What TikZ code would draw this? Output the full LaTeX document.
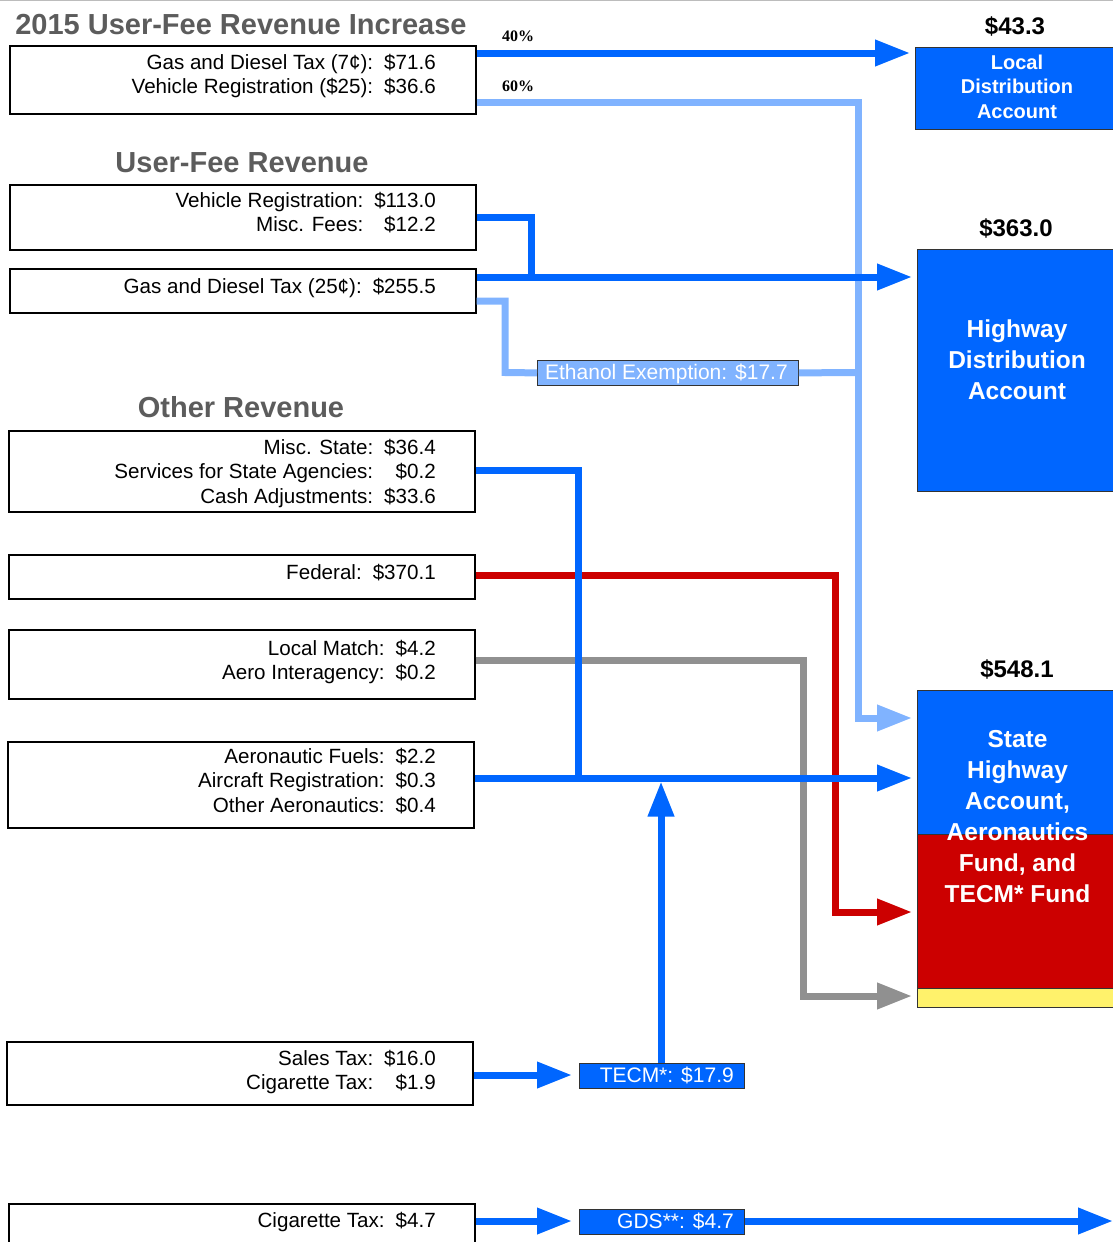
\documentclass[tikz,border=0pt]{standalone}
\usepackage{fontspec}
\setmainfont{Liberation Sans}
\newfontfamily\pctfont{Liberation Serif}
\usetikzlibrary{arrows.meta,calc}
\definecolor{fblue}{HTML}{0066FF}
\definecolor{lblue}{HTML}{80B3FF}
\definecolor{fred}{HTML}{CC0000}
\definecolor{fgray}{HTML}{909090}
\definecolor{fyellow}{HTML}{FFF26B}
\definecolor{ttl}{HTML}{5C5C5C}
\definecolor{edge}{HTML}{333333}
\newcommand{\tbl}[1]{\begin{tabular}[t]{@{}r@{\hspace{11pt}}r@{}}#1\end{tabular}}
\begin{document}
\begin{tikzpicture}[x=1pt,y=-1pt,
  srcbox/.style={draw=black, line width=1.6pt, fill=white, anchor=north west, inner sep=0pt},
  srctext/.style={anchor=base east, inner sep=0pt, font=\fontsize{20.6}{24.6}\selectfont},
  title/.style={anchor=base, inner sep=0pt, text=ttl, font=\fontsize{29}{30}\selectfont\bfseries},
  amount/.style={anchor=base, inner sep=0pt, font=\fontsize{24}{26}\selectfont\bfseries},
  pct/.style={anchor=base, inner sep=0pt, font=\pctfont\fontsize{16}{17}\selectfont\bfseries},
  dest/.style={draw=edge, line width=0.8pt, fill=fblue, anchor=north west, inner sep=0pt},
  desttext/.style={anchor=base, inner sep=0pt, text=white, align=center},
  tag/.style={draw=edge, line width=0.8pt, anchor=north west, inner sep=0pt, minimum height=25pt},
  tagtext/.style={anchor=base east, inner sep=0pt, text=white, font=\fontsize{21}{24}\selectfont},
  line/.style={line width=7pt},
  flow/.style={line width=7pt, -{Triangle[length=35pt,width=25pt]}, shorten >=5pt},
]
\useasboundingbox (0,0) rectangle (1113,1242);
\draw[fgray!60, line width=1pt] (0,0.5) -- (1113,0.5);

% titles
\node[title] (h1) at (241,34) {2015 User-Fee Revenue Increase};
\node[title] (h2) at (242,172) {User-Fee Revenue};
\node[title] (h3) at (241,417) {Other Revenue};

% source boxes
\node[srcbox, minimum width=466, minimum height=68] (b1) at (9,45) {};
\node[srcbox, minimum width=466, minimum height=65] (b2) at (9,184) {};
\node[srcbox, minimum width=466, minimum height=44] (b3) at (9,268) {};
\node[srcbox, minimum width=466, minimum height=81] (b4) at (8,430) {};
\node[srcbox, minimum width=466, minimum height=44] (b5) at (8,554) {};
\node[srcbox, minimum width=466, minimum height=69] (b6) at (8,629) {};
\node[srcbox, minimum width=466, minimum height=86] (b7) at (7,741) {};
\node[srcbox, minimum width=466, minimum height=63] (b8) at (6,1041) {};
\node[srcbox, minimum width=466, minimum height=50] (b9) at (8,1203) {};

\node[srctext] (t1) at (436,69) {\tbl{Gas and Diesel Tax (7¢): & \$71.6\\ Vehicle Registration (\$25): & \$36.6}};
\node[srctext] (t2) at (436,207) {\tbl{Vehicle Registration: & \$113.0\\ Misc. Fees: & \$12.2}};
\node[srctext] (t3) at (436,293) {\tbl{Gas and Diesel Tax (25¢): & \$255.5}};
\node[srctext] (t4) at (436,454) {\tbl{Misc. State: & \$36.4\\ Services for State Agencies: & \$0.2\\ Cash Adjustments: & \$33.6}};
\node[srctext] (t5) at (436,579) {\tbl{Federal: & \$370.1}};
\node[srctext] (t6) at (436,655) {\tbl{Local Match: & \$4.2\\ Aero Interagency: & \$0.2}};
\node[srctext] (t7) at (436,763) {\tbl{Aeronautic Fuels: & \$2.2\\ Aircraft Registration: & \$0.3\\ Other Aeronautics: & \$0.4}};
\node[srctext] (t8) at (436,1065) {\tbl{Sales Tax: & \$16.0\\ Cigarette Tax: & \$1.9}};
\node[srctext] (t9) at (436,1227) {\tbl{Cigarette Tax: & \$4.7}};

% percentages
\node[pct] (p40) at (518,41) {40\%};
\node[pct] (p60) at (518,91) {60\%};

% destination accounts
\node[amount] (a1) at (1015,34) {\$43.3};
\node[amount] (a2) at (1016,236) {\$363.0};
\node[amount] (a3) at (1017,677) {\$548.1};

\node[dest, minimum width=200, minimum height=82] (lda) at (915,47) {};
\node[desttext, font=\fontsize{20}{24.5}\selectfont\bfseries] (ldat) at (1017,118) {Local\\Distribution\\Account};
\node[dest, minimum width=198, minimum height=242] (hda) at (917,249) {};
\node[desttext, font=\fontsize{24.5}{31}\selectfont\bfseries] (hdat) at (1017,399) {Highway\\Distribution\\Account};

\node[dest, minimum width=198, minimum height=317] (sha) at (917,690) {};
\fill[fred] (917,834) rectangle (1115,988);
\fill[fyellow] (917,988) rectangle (1115,1007);
\draw[edge, line width=0.8pt] (917,834) -- (1115,834) (917,988) -- (1115,988);
\draw[edge, line width=0.8pt] (917,690) rectangle (1115,1007);
\node[desttext, font=\fontsize{24.5}{31}\selectfont\bfseries] (shat) at (1017.5,902) {State\\Highway\\Account,\\Aeronautics\\Fund, and\\TECM* Fund};

% intermediate tags
\node[tag, fill=lblue, minimum width=261] (eth) at (537,360) {};
\node[tagtext] (etht) at (788,379) {Ethanol Exemption:\hspace{8pt}\$17.7};
\node[tag, fill=fblue, minimum width=165] (tecm) at (579,1063) {};
\node[tagtext] (tecmt) at (734,1082) {TECM*:\hspace{8pt}\$17.9};
\node[tag, fill=fblue, minimum width=165] (gds) at (579,1209) {};
\node[tagtext] (gdst) at (734,1228) {GDS**:\hspace{8pt}\$4.7};

% connectors: light blue
\draw[line, lblue] (b3.east |- 0,301) -| (505,372.5) -- (eth.west);
\draw[line, lblue] (eth.east) -- (858,372.5);
\draw[flow, lblue] (b1.east |- 0,102) -| (858,718) -- (sha.west |- 0,718);

% gray and red
\draw[flow, fgray] (b6.east |- 0,660) -| (803,996) -- (sha.west |- 0,996);
\draw[flow, fred] (b5.east |- 0,575) -| (835,912) -- (sha.west |- 0,912);

% dark blue
\draw[flow, fblue] (b1.east |- 0,53) -- (lda.west |- 0,53);
\draw[line, fblue] (b2.east |- 0,217) -| (531,277);
\draw[flow, fblue] (b3.east |- 0,277) -- (hda.west |- 0,277);
\draw[line, fblue] (b4.east |- 0,470) -| (578,778);
\draw[flow, fblue] (b7.east |- 0,778) -- (sha.west |- 0,778);
\draw[flow, fblue, shorten >=0pt] (tecm.north -| 661,0) -- (661,781.5);
\draw[flow, fblue, shorten >=7pt] (b8.east |- 0,1075) -- (tecm.west |- 0,1075);
\draw[flow, fblue, shorten >=7pt] (b9.east |- 0,1221) -- (gds.west |- 0,1221);
\draw[flow, fblue, shorten >=0pt] (gds.east |- 0,1221) -- (1113,1221);
\end{tikzpicture}
\end{document}
